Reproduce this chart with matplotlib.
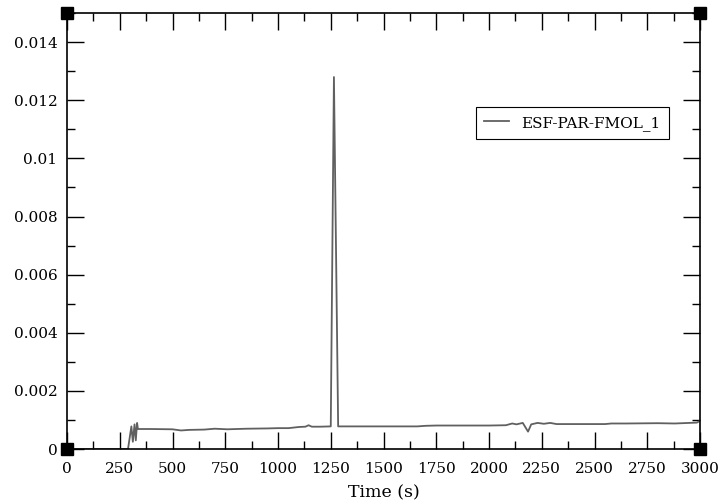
import numpy as np
import matplotlib.pyplot as plt
from matplotlib.ticker import MultipleLocator

plt.rcParams['font.family'] = ['DejaVu Serif']

# time (s) and value
time = [0, 289, 305, 312, 320, 326, 332, 336, 400, 500, 540, 580, 650, 700, 760,
        850, 950, 1000, 1050, 1100, 1130, 1145, 1160, 1200, 1250, 1265, 1285, 1300,
        1400, 1500, 1600, 1660, 1700, 1750, 1900, 2000, 2080, 2110, 2130, 2160, 2185,
        2200, 2230, 2260, 2290, 2320, 2360, 2450, 2550, 2580, 2650, 2800, 2880, 2950,
        2985, 3000]
value = [0, 0, 0.00078, 0.00025, 0.00085, 0.0003, 0.0009, 0.00069,
         0.00069, 0.00068, 0.00064, 0.00066, 0.00067, 0.0007, 0.00068, 0.0007, 0.00071,
         0.00072, 0.00072, 0.00076, 0.00077, 0.00082, 0.00077, 0.00077, 0.00078, 0.0128,
         0.00078, 0.00078, 0.00078, 0.00078, 0.00078, 0.00078, 0.0008, 0.00081, 0.00081,
         0.00081, 0.00082, 0.00088, 0.00085, 0.0009, 0.0006, 0.00085, 0.0009, 0.00087,
         0.0009, 0.00086, 0.00086, 0.00086, 0.00086, 0.00088, 0.00088, 0.00089, 0.00088,
         0.0009, 0.00091, 0.00097]

fig = plt.figure(figsize=(7.23, 5.04), dpi=100)
ax = fig.add_axes([0.0927, 0.109, 0.8755, 0.865])

ax.plot(time, value, color='#606060', lw=1.3, label='ESF-PAR-FMOL_1')

ax.set_xlim(0, 3000)
ax.set_ylim(0, 0.015)
ax.xaxis.set_major_locator(MultipleLocator(250))
ax.xaxis.set_minor_locator(MultipleLocator(125))
ax.yaxis.set_major_locator(MultipleLocator(0.002))
ax.yaxis.set_minor_locator(MultipleLocator(0.001))
ax.yaxis.set_major_formatter(plt.FuncFormatter(lambda v, p: '0' if v == 0 else ('%.3f' % v).rstrip('0')))

ax.tick_params(which='both', direction='in', top=True, right=True, labelsize=11, width=1.0)
ax.tick_params(which='major', length=12)
ax.tick_params(which='minor', length=6)
ax.tick_params(axis='x', which='major', pad=9)
ax.tick_params(axis='y', which='major', pad=7)
for s in ax.spines.values():
    s.set_linewidth(1.2)

ax.set_xlabel('Time (s)', fontsize=12.5, labelpad=6)

# black squares at the corners
ax.plot([0, 1, 0, 1], [0, 0, 1, 1], 's', color='black', ms=8,
        transform=ax.transAxes, clip_on=False, zorder=5)

leg = ax.legend(loc='upper right', bbox_to_anchor=(0.951, 0.784), fontsize=11,
                fancybox=False, framealpha=1, handlelength=1.65, borderpad=0.55,
                borderaxespad=0, handletextpad=0.8)
leg.get_frame().set_edgecolor('black')
leg.get_frame().set_linewidth(0.8)

plt.savefig('out.png', dpi=100)
